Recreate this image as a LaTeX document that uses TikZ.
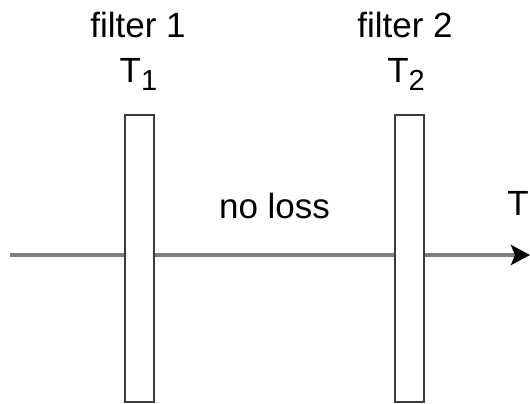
\documentclass[tikz,border=0pt]{standalone}
\usepackage{fontspec}
\setmainfont{Liberation Sans}
\usetikzlibrary{arrows.meta}
\definecolor{linegray}{RGB}{125,125,125}
\definecolor{boxgray}{RGB}{60,60,60}
\tikzset{
  filterbox/.style={draw=boxgray, line width=2pt, fill=white, minimum width=28.5pt, minimum height=287pt, inner sep=0pt, outer sep=0pt},
  lbl/.style={inner sep=0pt, outer sep=0pt, anchor=base, font=\fontsize{35}{40}\selectfont},
  beam/.style={draw=linegray, line width=3.5pt, -{Stealth[black, length=19pt, width=20pt, inset=4pt]}}
}
\newcommand{\subsc}[1]{\raisebox{-8pt}{\fontsize{29}{30}\selectfont #1}}
\begin{document}
\begin{tikzpicture}[x=1pt, y=-1pt]
\useasboundingbox (0,0) rectangle (530,404);
\coordinate (src) at (10,255);
\coordinate (dst) at (530,255);
\draw[beam] (src) -- (dst);
\node[filterbox] (f1) at (139.7,258.5) {};
\node[filterbox] (f2) at (409.5,258.5) {};
\node[lbl] (t1) at (138,38) {filter 1};
\node[lbl] (s1) at (138.5,82) {T\subsc{1}};
\node[lbl] (t2) at (405,38) {filter 2};
\node[lbl] (s2) at (406,82) {T\subsc{2}};
\node[lbl] (nl) at (274.5,218) {no loss};
\node[lbl] (tt) at (518,215) {T};
\end{tikzpicture}
\end{document}
